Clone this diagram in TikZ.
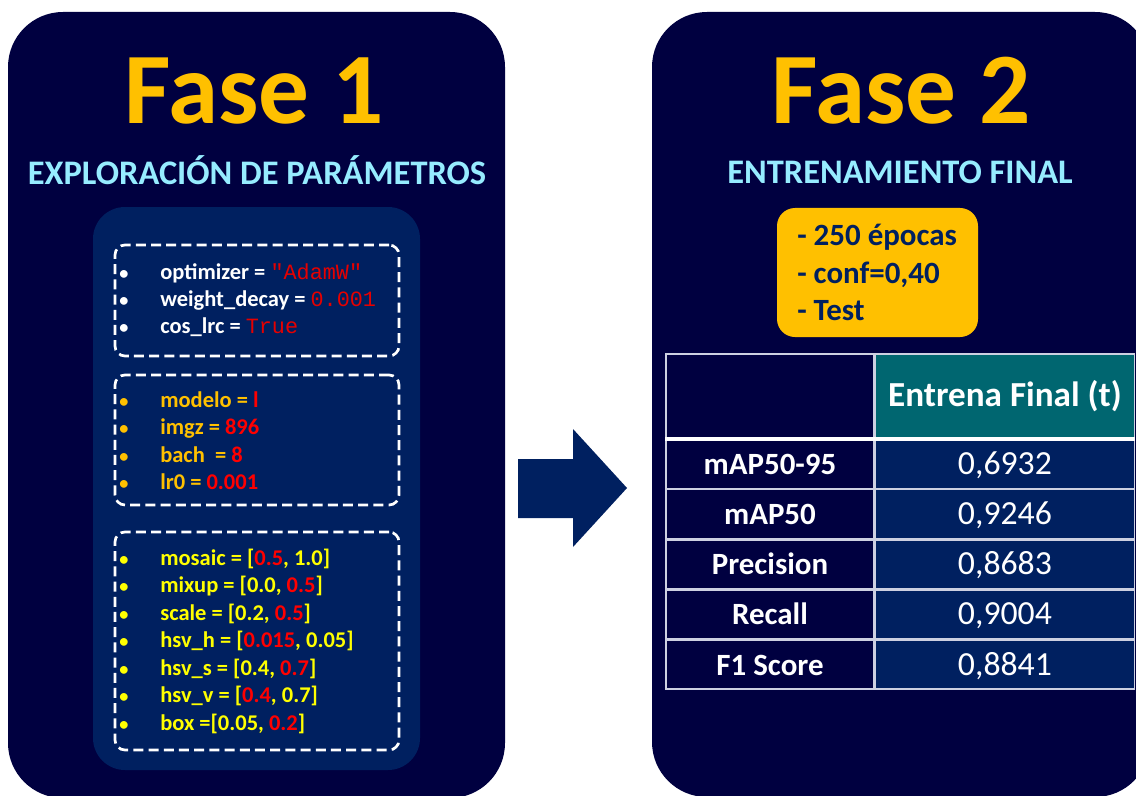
\documentclass[tikz,border=0pt]{standalone}
\usepackage{fontspec}
\setmainfont{Carlito}
\newfontfamily\codefont{Liberation Mono}
\usetikzlibrary{positioning}

\definecolor{panelnavy}{RGB}{0,0,64}
\definecolor{boxblue}{RGB}{0,32,96}
\definecolor{gold}{RGB}{255,192,0}
\definecolor{skyblue}{RGB}{150,236,255}
\definecolor{tealhead}{RGB}{0,102,112}
\definecolor{brightyellow}{RGB}{255,255,0}
\definecolor{valred}{RGB}{255,0,0}
\definecolor{codered}{RGB}{230,0,0}
\definecolor{gridgray}{RGB}{205,208,225}

\newcommand{\redval}[1]{\textcolor{valred}{#1}}
\newcommand{\codeval}[1]{{\codefont\mdseries\fontsize{15.5}{18}\selectfont\textcolor{codered}{#1}}}
\newcommand{\bul}{\makebox[10.25mm][l]{\fontsize{13}{15}\selectfont•}}

\begin{document}
\begin{tikzpicture}[
                x=0.25mm, y=-0.25mm,
                panel/.style = {
                    fill=panelnavy,
                    rounded corners=13.75mm
                },
                title/.style = {
                    anchor=base,
                    text=gold,
                    font=\bfseries\fontsize{72}{80}\selectfont
                },
                subtitle/.style = {
                    anchor=base,
                    text=skyblue,
                    font=\bfseries\fontsize{24.5}{28}\selectfont
                },
                dashbox/.style = {
                    draw=white,
                    line width=1.9pt,
                    dash pattern=on 2.5mm off 1.3mm,
                    rounded corners=2.5mm,
                    minimum width=71mm,
                    minimum height=#1,
                    inner sep=0pt
                },
                item/.style = {
                    anchor=base west,
                    inner sep=0pt,
                    font=\bfseries\fontsize{16}{19}\selectfont
                },
                cfg/.style = {
                    anchor=base west,
                    inner sep=0pt,
                    text=boxblue,
                    font=\bfseries\fontsize{22}{26}\selectfont
                },
                cell/.style = {
                    draw=gridgray,
                    line width=1pt,
                    inner sep=0pt,
                    text height=15pt,
                    text depth=0pt,
                    text=white,
                    minimum height=12.2mm
                },
                lab/.style = {
                    cell,
                    fill=panelnavy,
                    minimum width=52mm,
                    font=\bfseries\fontsize{22}{26}\selectfont
                },
                val/.style = {
                    cell,
                    fill=boxblue,
                    minimum width=64.75mm,
                    font=\fontsize{24}{28}\selectfont
                }
            ]
            \useasboundingbox[fill=white] (0,0) rectangle (1136,796);
            %
            \fill[panel] (8,12) rectangle (505,798);
            \fill[panel] (652,12) rectangle (1150,797);
            \fill[boxblue, rounded corners=8mm] (93,207) rectangle (420,770);
            %
            \node[title] (fase1) at (254,124) {Fase 1};
            \node[subtitle] (sub1) at (257,184) {EXPLORACIÓN DE PARÁMETROS};
            \node[title] (fase2) at (901,124) {Fase 2};
            \node[subtitle] (sub2) at (900,183) {ENTRENAMIENTO FINAL};
            %
            \node[dashbox=27.75mm] (params) at (257,300.5) {};
            \node[dashbox=32.5mm] (model) at (257,440) {};
            \node[dashbox=54.5mm] (augment) at (257,641) {};
            %
            \node[item, text=white] (opt) at (119,279) {\bul optimizer = \codeval{"AdamW"}};
            \node[item, text=white] (wd) at (119,306) {\bul weight\_decay = \codeval{0.001}};
            \node[item, text=white] (lrc) at (119,333) {\bul cos\_lrc = \codeval{True}};
            %
            \node[item, text=gold] (modelo) at (119,407) {\bul modelo = \redval{l}};
            \node[item, text=gold] (imgz) at (119,434.5) {\bul imgz = \redval{896}};
            \node[item, text=gold] (bach) at (119,462) {\bul bach ~= \redval{8}};
            \node[item, text=gold] (lr) at (119,489) {\bul lr0 = \redval{0.001}};
            %
            \node[item, text=brightyellow] (mosaic) at (119,565) {\bul mosaic = [\redval{0.5}, 1.0]};
            \node[item, text=brightyellow] (mixup) at (119,592.5) {\bul mixup = [0.0, \redval{0.5}]};
            \node[item, text=brightyellow] (scale) at (119,620) {\bul scale = [0.2, \redval{0.5}]};
            \node[item, text=brightyellow] (hsvh) at (119,647.5) {\bul hsv\_h = [\redval{0.015}, 0.05]};
            \node[item, text=brightyellow] (hsvs) at (119,675) {\bul hsv\_s = [0.4, \redval{0.7}]};
            \node[item, text=brightyellow] (hsvv) at (119,702.5) {\bul hsv\_v = [\redval{0.4}, 0.7]};
            \node[item, text=brightyellow] (box) at (119,730) {\bul box =[0.05, \redval{0.2}]};
            %
            % flecha
            \fill[boxblue] (518,459) -- (573,459) -- (573,429) -- (627,488)
                -- (573,547) -- (573,518) -- (518,518) -- cycle;
            %
            \node[fill=gold, rounded corners=4.5mm, minimum width=50.25mm,
                  minimum height=32.25mm] (config) at (877.5,272.5) {};
            \node[cfg] (epocas) at (797,245) {- 250 épocas};
            \node[cfg] (conf) at (797,283) {- conf=0,40};
            \node[cfg] (test) at (797,320) {- Test};
            %
            \node[lab, minimum height=21mm] (corner) at (770,396) {};
            \node[val, fill=tealhead, minimum height=21mm,
                  font=\bfseries\fontsize{25}{29}\selectfont, right=0pt of corner] (head) {Entrena Final (t)};
            %
            \node[lab, below=0pt of corner] (r1) {mAP50-95};
            \node[lab, below=0pt of r1] (r2) {mAP50};
            \node[lab, below=0pt of r2] (r3) {Precision};
            \node[lab, below=0pt of r3] (r4) {Recall};
            \node[lab, below=0pt of r4] (r5) {F1 Score};
            %
            \node[val, right=0pt of r1] (v1) {0,6932};
            \node[val, right=0pt of r2] (v2) {0,9246};
            \node[val, right=0pt of r3] (v3) {0,8683};
            \node[val, right=0pt of r4] (v4) {0,9004};
            \node[val, right=0pt of r5] (v5) {0,8841};
            %
            \draw[white, line width=3pt] (corner.south west) -- (head.south east);
        \end{tikzpicture}
\end{document}
